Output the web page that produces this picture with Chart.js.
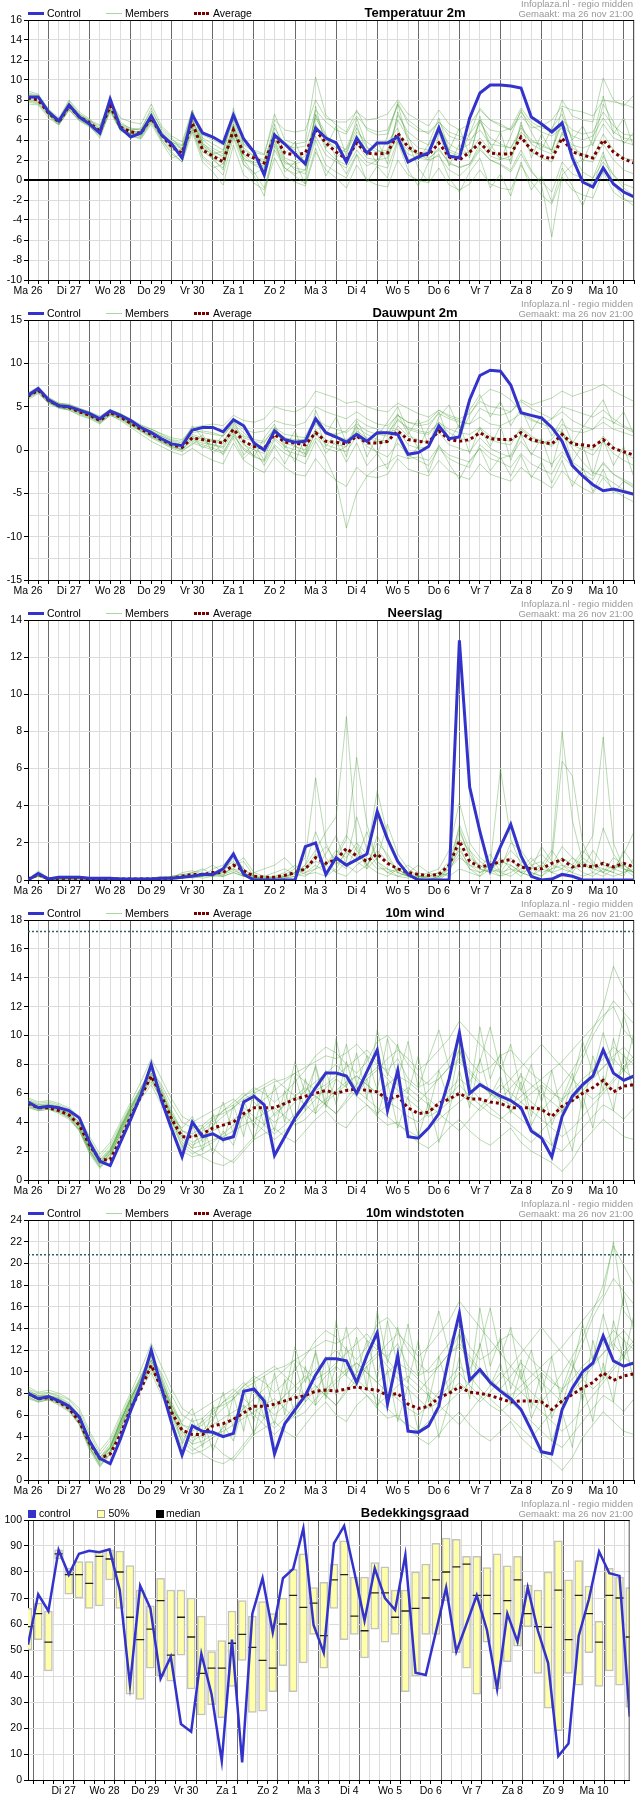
<!DOCTYPE html>
<html><head><meta charset="utf-8">
<script src="https://cdn.jsdelivr.net/npm/chart.js@4.4.1/dist/chart.umd.min.js"></script>
<style>
body{margin:0;background:#fff;}
#wrap{position:relative;width:635px;height:1800px;overflow:hidden;font-family:"Liberation Sans",Arial,sans-serif;}
.panel{position:absolute;left:0;width:635px;height:300px;}
.panel canvas{position:absolute;left:0;top:0;}
.t{position:absolute;white-space:nowrap;}
.leg{font-size:10.5px;line-height:14px;top:6px;color:#000;}
.title{font-size:13px;font-weight:bold;line-height:14px;top:6px;left:315px;width:200px;text-align:center;color:#000;}
.info{font-size:9.5px;line-height:10px;color:#999;right:2px;text-align:right;}
.sw{position:absolute;box-sizing:border-box;}
</style></head><body><div id="wrap"></div>
<script>
// ---------- labels ----------
const dayLabels = ['Ma 26','Di 27','Wo 28','Do 29','Vr 30','Za 1','Zo 2','Ma 3','Di 4','Wo 5','Do 6','Vr 7','Za 8','Zo 9','Ma 10'];
const cloudDayLabels = ['Di 27','Wo 28','Do 29','Vr 30','Za 1','Zo 2','Ma 3','Di 4','Wo 5','Do 6','Vr 7','Za 8','Zo 9','Ma 10'];
const titles = ['Temperatuur 2m','Dauwpunt 2m','Neerslag','10m wind','10m windstoten','Bedekkingsgraad'];
const legendLine = ['Control','Members','Average'];
const legendCloud = ['control','50%','median'];
const infoText = ['Infoplaza.nl - regio midden','Gemaakt: ma 26 nov 21:00'];

// ---------- temperature ----------
const tempControl = [8.3,8.3,6.8,5.9, 7.5,6.3,5.6,4.7, 8.1,5.2,4.3,4.7, 6.4,4.5,3.6,2.2, 6.5,4.7,4.3,3.7, 6.5,4.1,2.8,0.5, 4.5,3.6,2.6,1.6, 5.2,4.2,3.7,1.8, 4.2,2.7,3.7,3.7, 4.3,1.8,2.3,2.7, 5.2,2.4,2.2,6.2, 8.7,9.5,9.5,9.4, 9.2,6.3,5.6,4.8, 5.7,2.2,-0.2,-0.7, 1.2,-0.4,-1.2,-1.7];
const tempAverage = [8.2,8.0,6.7,5.8, 7.4,6.3,5.7,4.9, 7.4,5.3,4.8,4.7, 6.2,4.5,3.3,2.7, 5.7,3.0,2.4,1.8, 5.0,2.7,2.2,1.7, 4.4,2.7,2.5,2.7, 5.0,3.7,2.8,2.1, 3.7,2.7,2.6,2.7, 4.7,3.3,2.7,2.5, 3.7,2.3,2.0,2.8, 3.7,2.7,2.6,2.6, 4.3,3.0,2.4,2.1, 4.2,2.8,2.5,2.2, 4.0,2.8,2.1,1.7];
const tempMembers = [
 [8.6,8.4,7.0,6.0, 7.9,6.6,5.9,5.2, 8.3,5.8,5.1,5.0, 7.2,5.0,4.0,3.5, 6.8,4.0,3.2,2.6, 7.2,3.5,2.8,2.5, 6.6,4.0,3.6,3.8, 10.3,6.5,5.5,4.8, 7.0,5.0,4.5,4.6, 7.8,5.6,4.9,4.8, 5.8,4.4,4.0,4.6, 6.0,5.0,4.8,5.2, 7.2,5.8,5.2,5.0, 8.0,6.4,6.0,5.8, 10.2,8.0,7.4,8.5],
 [7.8,7.6,6.4,5.5, 7.0,5.9,5.3,4.4, 6.8,4.9,4.4,4.2, 5.8,4.0,2.6,1.8, 4.8,1.8,0.8,-0.5, 3.5,0.5,-0.3,-1.0, 2.2,0.3,-0.2,-0.6, 2.8,1.0,0.2,-0.8, 1.5,0.0,-0.5,-0.7, 2.0,0.5,0.0,-0.3, 1.2,-0.5,-1.0,-0.4, 1.0,-0.4,-0.8,-1.0, 1.5,-0.2,-1.5,-2.4, 0.3,-1.0,-1.5,-1.8, 0.8,-1.2,-2.0,-2.2],
 [8.4,8.2,6.9,5.9, 7.6,6.2,5.6,4.8, 8.2,5.2,4.4,4.8, 6.6,4.5,3.6,2.4, 6.4,4.5,4.0,3.5, 6.4,4.0,2.6,0.8, 4.6,3.8,3.0,1.8, 5.4,4.2,3.6,1.9, 4.5,2.8,3.6,3.8, 5.2,2.0,2.4,3.0, 5.5,2.8,2.4,4.6, 7.2,6.0,5.4,5.0, 6.8,5.5,4.8,4.4, 5.2,2.6,0.8,0.2, 1.8,0.5,-0.4,-0.8],
 [8.0,7.8,6.5,5.6, 7.2,6.2,5.7,5.0, 7.0,5.0,4.7,4.5, 6.0,4.6,3.8,3.2, 5.5,3.2,2.6,2.0, 4.8,2.2,1.5,1.0, 4.0,1.8,1.2,1.0, 6.5,4.0,3.2,2.8, 4.8,3.8,3.0,2.6, 6.5,4.8,4.0,3.5, 5.0,3.0,2.6,2.8, 4.2,3.0,2.2,2.0, 5.5,3.6,3.0,2.6, 4.6,3.5,3.2,3.6, 5.6,4.2,3.8,3.5],
 [8.3,8.1,6.6,5.7, 7.3,6.4,5.8,4.7, 7.6,5.4,5.0,4.6, 6.3,4.2,3.0,2.8, 5.9,3.2,2.0,1.2, 4.8,2.5,1.6,1.4, 4.5,2.0,1.0,0.6, 4.0,1.5,0.8,0.2, 2.5,1.4,2.0,2.8, 4.0,3.0,2.6,2.0, 2.4,1.0,0.4,1.4, 3.0,2.0,1.6,1.0, 3.0,1.0,-0.5,-5.7, 0.5,1.5,2.0,1.8, 3.6,2.0,1.0,0.6],
 [8.5,8.3,6.8,6.0, 7.5,6.5,5.9,5.4, 7.7,5.6,5.2,5.0, 6.5,4.8,3.6,3.1, 6.2,3.6,3.0,2.2, 5.6,3.0,2.4,2.0, 5.2,3.5,3.2,3.4, 7.0,5.8,5.0,4.6, 6.4,5.2,4.8,5.0, 7.5,6.0,5.2,4.6, 5.8,4.8,4.4,4.0, 5.0,3.6,3.4,3.2, 4.8,3.8,3.6,3.0, 6.0,5.0,4.6,4.8, 6.8,5.4,4.6,4.4],
 [7.6,7.5,6.2,5.5, 7.0,6.0,5.4,4.2, 7.0,5.0,4.6,4.4, 6.0,4.0,2.8,1.8, 5.2,2.4,1.5,0.5, 4.2,1.5,0.8,-0.8, 3.0,1.2,0.6,1.0, 4.4,2.5,1.8,1.2, 3.0,1.8,1.5,1.2, 4.0,2.6,2.2,2.0, 3.2,1.6,1.3,1.6, 3.2,2.0,1.5,0.8, 2.6,0.8,-0.2,-1.2, 1.8,0.6,0.2,-0.6, 2.4,0.5,-0.8,-1.6],
 [8.9,8.6,7.0,6.1, 7.7,6.6,6.0,5.5, 8.0,6.2,5.8,5.6, 7.6,5.4,4.4,3.8, 7.0,4.2,3.6,3.0, 6.2,3.6,3.0,2.6, 6.0,5.0,4.8,5.0, 8.0,6.2,5.8,5.8, 6.8,6.0,6.2,6.6, 8.0,6.6,6.0,5.4, 7.0,5.6,5.0,5.6, 7.0,6.0,5.6,5.0, 6.4,5.2,5.4,6.0, 7.4,7.0,6.8,6.4, 8.0,7.8,7.6,7.2],
 [8.1,7.9,6.7,5.8, 7.5,6.1,5.5,4.6, 7.3,5.1,4.6,4.3, 5.9,4.4,3.2,3.0, 5.4,2.8,2.2,1.6, 5.0,2.0,1.8,1.6, 3.6,1.6,1.6,2.0, 5.6,3.0,2.0,1.5, 3.6,2.2,2.0,2.2, 4.6,3.2,2.6,2.2, 3.0,1.8,1.2,1.6, 3.6,2.4,2.0,2.4, 4.4,2.8,2.2,1.8, 4.8,3.2,2.6,2.2, 4.6,3.0,2.2,2.0],
 [8.4,8.2,6.8,5.9, 7.4,6.3,5.6,4.9, 7.2,5.3,4.9,4.8, 6.4,4.8,3.8,3.4, 6.0,3.4,2.8,2.4, 5.4,2.6,2.0,1.8, 4.8,2.2,1.8,2.4, 6.2,4.4,3.6,3.0, 5.2,3.2,2.8,3.0, 6.0,4.2,3.2,3.0, 5.2,3.6,3.0,3.6, 5.8,4.2,3.6,3.2, 5.2,4.0,3.4,3.0, 5.6,4.4,4.0,4.4, 6.2,4.8,4.2,4.0],
 [8.7,8.5,7.1,6.2, 8.0,6.8,6.1,5.0, 7.9,5.6,5.0,5.2, 6.9,5.2,4.2,3.0, 7.0,3.6,2.2,1.0, 5.6,1.6,0.4,-1.6, 3.4,1.2,0.4,-0.4, 7.4,3.2,5.4,2.4, 6.2,3.4,1.6,4.4, 7.6,3.8,1.2,-0.2, 4.8,1.4,3.6,2.2, 6.4,3.0,4.8,1.6, 5.8,2.2,4.6,2.8, 7.2,3.8,1.8,4.2, 8.4,4.6,6.2,3.2],
 [7.9,7.7,6.5,5.6, 7.1,6.0,5.4,4.5, 7.1,5.0,4.4,4.1, 5.6,3.8,2.2,2.6, 5.0,2.2,1.2,1.6, 4.4,2.0,0.6,1.2, 4.0,0.8,1.8,-0.4, 3.2,0.4,2.2,0.6, 2.6,-0.2,1.4,0.2, 3.8,1.0,-0.6,1.8, 2.6,0.2,-1.2,0.8, 2.2,-0.8,0.6,-1.6, 1.8,-1.0,0.4,-2.2, 1.2,-0.6,-2.6,0.2, 2.8,-0.4,-1.8,-2.6],
 [8.2,8.1,6.6,5.9, 7.7,6.4,5.5,4.8, 7.8,5.5,4.6,4.9, 6.7,4.7,3.4,2.2, 6.0,3.8,2.6,2.9, 6.0,3.2,2.4,1.2, 5.6,2.6,3.8,1.4, 6.6,4.6,2.2,3.2, 5.6,2.4,4.0,1.6, 6.8,4.4,2.0,3.6, 6.2,3.0,5.2,2.4, 6.0,3.6,2.0,4.4, 7.0,4.8,3.0,5.2, 6.6,4.0,5.4,3.4, 7.6,5.8,3.6,4.8]
];

// ---------- dew point ----------
const dewControl = [6.3,7.1,5.8,5.1, 5.0,4.6,4.2,3.6, 4.5,4.0,3.4,2.6, 2.0,1.3,0.7,0.5, 2.3,2.6,2.6,2.1, 3.5,2.8,0.8,0.0, 2.2,1.2,0.9,1.0, 3.6,2.0,1.5,0.9, 1.8,1.0,2.0,2.0, 1.8,-0.5,-0.3,0.4, 2.8,1.3,1.5,5.8, 8.6,9.2,9.1,7.5, 4.3,4.0,3.7,2.6, 1.0,-1.8,-3.0,-4.0, -4.7,-4.5,-4.8,-5.1];
const dewAverage = [6.2,6.9,5.7,5.1, 4.9,4.4,4.0,3.4, 4.3,3.8,3.1,2.4, 1.8,1.2,0.6,0.3, 1.4,1.2,1.0,0.8, 2.4,1.0,0.4,0.2, 1.8,0.9,0.8,0.6, 2.0,1.0,0.9,0.7, 1.6,0.8,0.8,1.0, 2.2,1.2,1.0,0.9, 2.2,1.2,1.0,1.2, 2.0,1.3,1.2,1.2, 2.0,1.2,0.9,0.7, 1.8,0.7,0.6,0.4, 1.2,0.2,-0.2,-0.6];
const dewMembers = [
 [6.5,7.2,6.0,5.4, 5.2,4.8,4.4,3.8, 4.6,4.2,3.6,2.9, 2.4,1.8,1.2,1.0, 2.6,2.8,3.0,2.8, 4.0,3.4,3.2,3.6, 5.0,4.6,4.4,5.0, 6.8,6.4,6.0,5.4, 5.6,5.0,4.6,4.4, 5.4,4.8,4.2,3.8, 4.6,4.0,3.6,4.2, 5.6,5.0,4.8,4.4, 5.8,5.2,5.6,6.0, 6.8,6.2,6.6,7.0, 7.6,6.8,6.2,5.6],
 [6.0,6.6,5.4,4.8, 4.6,4.0,3.6,3.0, 4.0,3.4,2.6,1.8, 1.0,0.4,-0.2,-0.6, 0.2,-0.6,-1.2,-1.6, 0.8,-1.2,-2.0,-2.6, -0.8,-2.0,-2.8,-3.0, -1.0,-2.5,-3.5,-4.2, -2.0,-3.0,-3.2,-2.8, -1.0,-2.2,-2.6,-3.0, -1.2,-2.4,-3.0,-3.4, -1.6,-2.8,-3.2,-3.6, -2.0,-3.0,-3.6,-4.4, -2.4,-3.6,-4.4,-5.0, -3.2,-4.6,-5.4,-6.0],
 [6.3,7.0,5.8,5.1, 5.0,4.5,4.1,3.5, 4.4,3.9,3.2,2.5, 2.0,1.4,0.8,0.5, 2.0,2.2,2.0,1.6, 3.0,2.0,0.8,0.2, 2.2,1.4,1.0,1.2, 3.2,2.0,1.6,1.2, 2.0,1.2,1.8,2.0, 2.4,0.6,0.2,0.4, 2.4,1.4,1.6,4.0, 6.0,7.0,6.6,5.8, 4.4,3.6,3.0,2.6, 2.0,0.2,-1.4,-2.6, -3.0,-3.8,-4.6,-5.0],
 [6.1,6.8,5.6,5.0, 4.8,4.3,3.9,3.3, 4.2,3.7,3.0,2.3, 1.6,1.0,0.4,0.1, 1.0,0.6,0.2,-0.2, 1.6,0.2,-0.6,-1.4, 0.6,-0.4,-1.0,-1.6, 1.0,-1.0,-3.6,-9.0, -5.0,-3.0,-2.0,-1.6, -0.6,-1.0,-0.8,-1.2, 0.4,-0.6,-1.0,-1.4, 0.2,-1.0,-1.4,-2.0, -0.4,-1.6,-2.2,-2.8, -0.6,-2.0,-2.8,-3.4, -1.4,-2.8,-3.6,-4.2],
 [6.4,7.1,5.9,5.3, 5.1,4.6,4.2,3.6, 4.5,4.0,3.3,2.6, 2.2,1.6,1.0,0.6, 1.8,1.4,1.2,1.0, 2.6,1.4,1.0,0.8, 2.6,1.8,1.6,1.4, 3.0,2.0,1.8,2.2, 3.6,2.8,2.4,2.0, 3.4,2.6,2.2,2.0, 3.2,2.4,2.0,1.8, 2.6,1.6,1.2,1.0, 2.4,1.4,1.0,0.6, 2.0,1.0,0.4,0.0, 1.6,0.4,-0.4,-1.0],
 [5.8,6.5,5.4,4.9, 4.6,4.1,3.7,3.1, 4.0,3.5,2.8,2.1, 1.4,0.8,0.2,-0.2, 0.8,0.4,0.0,-0.4, 1.8,0.0,-0.8,-1.2, 1.2,0.0,-0.4,-0.8, 1.4,0.2,-0.2,0.4, 2.2,1.4,1.0,0.8, 2.8,1.6,1.2,0.8, 2.0,0.6,0.2,-0.2, 1.4,0.2,-0.4,-0.8, 1.0,-0.4,-1.0,-1.6, -0.2,-1.4,-2.2,-3.0, -1.6,-2.8,-3.4,-4.0],
 [6.6,7.3,6.1,5.4, 5.3,4.8,4.4,3.9, 4.7,4.2,3.5,2.8, 2.4,1.9,1.4,1.2, 2.4,2.0,1.8,1.6, 3.2,2.4,2.0,2.2, 3.4,3.0,2.8,3.2, 5.0,4.4,4.0,3.6, 4.4,3.6,3.0,2.8, 4.0,3.2,2.8,3.0, 4.2,3.6,3.2,3.0, 4.8,4.2,4.0,4.4, 5.6,4.8,4.2,3.6, 4.4,3.4,2.8,2.4, 3.2,2.4,2.0,1.6],
 [6.2,6.9,5.7,5.2, 4.9,4.4,4.0,3.4, 4.3,3.8,3.0,2.4, 1.7,1.1,0.5,0.2, 1.2,0.8,0.6,0.2, 2.0,0.6,0.0,-0.4, 1.4,0.4,0.0,-0.4, 2.0,0.6,0.2,-0.2, 1.6,0.4,-0.2,-0.8, 0.8,-0.6,-1.2,-1.8, 0.2,-1.0,-1.6,-2.0, 0.6,-0.4,-1.0,-0.6, 1.8,1.0,0.8,1.2, 3.0,2.2,2.0,2.4, 3.8,3.2,2.6,2.0],
 [6.0,6.7,5.5,4.9, 4.7,4.2,3.8,3.2, 4.1,3.6,2.9,2.2, 1.5,0.9,0.3,0.0, 1.4,1.0,0.6,0.4, 2.4,1.0,0.4,0.0, 2.0,0.8,0.4,0.0, 2.4,1.2,0.6,0.4, 2.6,1.8,1.2,1.0, 3.6,2.4,2.0,1.8, 3.2,2.0,1.4,1.0, 2.4,1.2,0.8,0.6, 2.6,1.6,1.0,0.4, 1.6,0.6,0.0,-0.6, 1.0,-0.4,-1.2,-1.8],
 [6.4,7.0,5.8,5.2, 5.0,4.5,4.0,3.5, 4.4,3.9,3.1,2.4, 1.9,1.3,0.7,0.4, 1.6,1.2,1.0,0.8, 2.8,1.6,1.2,1.0, 2.4,1.4,1.2,1.2, 3.6,2.8,2.4,2.0, 3.0,2.2,1.8,1.6, 4.0,3.2,3.0,3.4, 4.6,3.8,3.4,3.0, 3.8,3.0,2.8,3.4, 4.2,3.4,3.0,3.6, 5.0,4.6,4.2,3.8, 4.6,3.6,2.8,2.2],
 [6.4,7.1,5.9,5.3, 5.2,4.7,4.3,3.7, 4.6,4.1,3.4,2.7, 2.2,1.6,1.1,0.8, 2.8,1.4,0.2,1.8, 3.4,0.8,-0.8,1.4, 3.0,0.2,2.2,-0.6, 4.6,1.8,3.8,0.8, 2.8,-0.8,1.6,3.2, 5.0,2.2,0.2,2.6, 4.4,1.0,3.0,-0.4, 2.6,0.4,2.8,-1.2, 1.8,-0.6,1.4,-2.0, 2.4,-1.4,0.6,-2.8, 1.2,-1.8,0.4,-3.2],
 [6.1,6.8,5.6,4.9, 4.8,4.3,3.9,3.2, 4.2,3.7,2.9,2.2, 1.6,1.0,0.4,0.0, 0.6,1.8,-0.4,0.8, 2.2,-0.6,0.8,-1.2, 2.6,0.6,-1.4,1.6, 3.8,0.4,2.0,-0.8, 3.4,1.2,-0.4,2.4, 4.2,1.8,3.6,0.6, 3.8,5.2,2.4,4.6, 6.4,3.8,5.6,2.8, 4.8,2.2,4.0,1.6, 3.6,0.8,2.6,4.2, 5.8,3.0,4.4,1.8],
 [6.3,7.0,5.7,5.1, 4.9,4.4,4.0,3.4, 4.3,3.8,3.1,2.5, 1.9,1.3,0.7,0.3, 1.6,0.2,1.2,-0.6, 1.4,-1.0,0.2,-1.8, 0.4,-1.6,0.6,-0.8, 2.2,-0.4,1.0,-1.4, 0.8,-1.8,-0.4,-2.2, 1.6,-1.0,0.4,-2.6, 0.6,-1.6,-3.4,-1.2, 0.2,-2.4,-0.8,-3.0, -0.6,-3.2,-1.4,-3.8, -1.2,-4.2,-2.0,-4.8, -2.2,-5.0,-3.6,-4.4]
];

// ---------- precipitation ----------
const rainControl = [0,0.35,0.05,0.15, 0.15,0.15,0.1,0.1, 0.1,0.05,0.05,0.05, 0.05,0.1,0.1,0.15, 0.2,0.3,0.3,0.6, 1.4,0.3,0,0, 0,0,0,1.8, 2.0,0.3,1.2,0.8, 1.1,1.4,3.7,2.2, 1.0,0.3,0,0, 0,0,12.9,5.0, 2.6,0.5,1.8,3.0, 1.3,0.2,0,0.05, 0.3,0.2,0,0, 0,0,0,0];
const rainAverage = [0.05,0.3,0.05,0.1, 0.1,0.1,0.05,0.05, 0.05,0.05,0.05,0.05, 0.05,0.1,0.1,0.2, 0.3,0.3,0.4,0.4, 0.8,0.5,0.2,0.15, 0.15,0.25,0.4,0.6, 1.2,0.9,1.1,1.7, 1.3,1.0,1.4,0.9, 0.6,0.4,0.3,0.25, 0.3,0.8,2.1,1.0, 0.7,0.8,1.0,1.1, 0.7,0.6,0.6,0.9, 1.1,0.7,0.8,0.7, 0.9,0.7,0.9,0.7];
const rainMembers = [
 [0,0.3,0,0.1, 0.1,0.1,0,0, 0.1,0,0,0, 0,0.1,0.2,0.3, 0.4,0.6,0.3,0.2, 0.8,1.2,0.4,0.2, 0.1,0.3,0.6,1.2, 5.5,2.0,0.8,1.5, 1.0,0.6,2.4,1.2, 0.4,0.2,0.1,0, 0.2,0.8,1.6,0.8, 0.4,0.6,0.2,0.8, 0.4,0.2,0.6,1.4, 8.0,3.2,1.0,0.6, 0.4,1.2,0.8,0.4],
 [0,0.4,0.1,0.2, 0.2,0.1,0.1,0, 0,0.1,0.1,0, 0.1,0.2,0.1,0.2, 0.3,0.2,0.6,0.8, 1.4,0.6,0.2,0, 0,0.2,0.4,0.8, 1.6,2.6,3.4,8.8, 2.0,0.8,0.4,0.2, 0.6,0.2,0,0, 0,0.4,2.6,1.4, 0.6,0.4,1.2,0.6, 0.2,0.8,1.0,0.4, 0.2,0.6,1.4,2.4, 7.7,2.0,0.6,0.4],
 [0,0.2,0,0, 0.1,0.2,0.1,0.1, 0.1,0.1,0,0, 0,0,0.1,0.1, 0.2,0.1,0.2,0.4, 0.6,0.2,0.1,0.1, 0.2,0.4,0.8,0.4, 0.8,0.4,1.2,2.2, 6.6,3.0,1.0,0.4, 0.2,0.1,0.2,0.4, 0.6,1.6,4.2,2.0, 1.2,0.8,6.0,2.2, 0.8,0.4,0.2,0.6, 1.2,0.8,0.4,0.2, 0.6,0.4,1.6,0.8],
 [0,0.5,0.1,0.1, 0.1,0,0,0.1, 0,0,0.1,0.1, 0.1,0.1,0.2,0.2, 0.2,0.4,0.2,0.6, 1.0,0.4,0.1,0.1, 0.2,0.1,0.2,0.6, 1.4,0.8,1.6,1.2, 2.0,1.4,4.8,2.4, 1.0,0.4,0.2,0.1, 0.1,0.6,1.4,0.6, 0.2,1.0,0.8,1.6, 1.0,0.6,1.8,1.0, 6.4,5.6,2.0,0.8, 0.6,0.4,0.2,1.2],
 [0,0.2,0,0.1, 0,0.1,0,0, 0.1,0.1,0,0, 0,0.1,0.1,0.4, 0.5,0.3,0.3,0.3, 0.5,0.3,0.2,0.2, 0.4,0.6,0.3,0.2, 0.6,0.8,0.4,0.2, 0.8,1.2,0.6,0.6, 0.4,0.8,0.4,0.2, 0.4,1.0,2.8,1.2, 0.8,0.4,0.6,2.0, 1.6,0.8,0.4,0.6, 0.8,0.4,0.2,0.4, 1.0,0.6,1.4,2.6],
 [0,0.3,0,0, 0.1,0.1,0.1,0, 0,0,0,0.1, 0.1,0,0.1,0.2, 0.4,0.5,0.8,0.4, 0.6,0.4,0.2,0, 0,0.1,0.2,0.4, 0.6,1.4,2.4,0.8, 0.4,0.8,1.6,1.0, 0.6,0.2,0.1,0.2, 0.4,0.2,0.6,0.4, 0.2,0.6,0.4,0.2, 0.6,1.2,0.6,0.4, 1.2,0.8,1.6,1.0, 0.4,0.2,0.4,0.6],
 [0,0.4,0.1,0.1, 0.2,0.2,0.1,0.1, 0.1,0,0,0, 0,0.1,0.2,0.3, 0.2,0.2,0.4,0.2, 0.4,0.2,0.4,0.6, 0.8,1.2,0.6,0.3, 0.4,0.2,0.6,1.6, 1.2,2.6,1.0,0.6, 0.2,0.4,0.8,0.4, 0.2,0.4,1.8,0.6, 0.4,0.8,0.4,0.6, 0.4,0.2,0.8,1.6, 0.8,0.6,1.0,0.4, 0.2,0.6,0.8,0.4],
 [0,0.2,0.1,0, 0,0.1,0,0, 0,0.1,0,0, 0,0,0,0.1, 0.3,0.2,0.2,0.6, 0.8,1.0,0.2,0.1, 0.1,0.2,0.3,0.8, 2.6,1.2,0.4,1.0, 3.4,1.6,0.8,0.4, 0.6,0.2,0.1,0, 0.2,0.6,1.2,0.8, 0.6,0.4,0.2,0.4, 0.8,0.4,0.2,0.8, 0.6,0.4,1.2,0.8, 0.4,0.8,0.6,0.2],
 [0,0.3,0,0.1, 0.1,0,0.1,0, 0,0,0.1,0, 0,0.1,0.1,0.1, 0.2,0.4,0.2,0.2, 0.4,0.2,0.1,0.1, 0.1,0.2,0.4,0.6, 1.0,0.8,1.4,2.4, 1.6,0.8,2.0,1.4, 0.4,0.2,0.2,0.2, 0.2,0.8,2.2,1.6, 1.0,0.6,1.0,0.8, 0.4,1.0,1.4,0.8, 1.8,1.2,0.6,1.6, 0.8,0.6,0.4,0.8],
 [0,0.2,0,0, 0.1,0.1,0,0, 0.1,0,0,0.1, 0,0.1,0.1,0.2, 0.1,0.2,0.4,0.4, 1.2,0.6,0.1,0, 0,0.1,0.4,0.6, 1.2,1.8,1.0,0.6, 1.8,0.6,1.2,3.0, 1.4,0.6,0.2,0.1, 0.1,0.4,3.0,1.6, 0.6,1.4,0.4,1.2, 0.4,0.6,0.8,0.4, 0.6,1.2,0.8,0.6, 2.8,1.4,0.6,0.4]
];

// ---------- 10m wind ----------
const windLimit = 17.2;
const windControl = [5.4,5.0,5.1,5.0, 4.8,4.3,2.6,1.3, 1.0,2.6,4.2,5.9, 8.0,5.5,3.5,1.6, 4.0,3.0,3.2,2.8, 3.0,5.4,5.8,5.2, 1.7,3.0,4.3,5.3, 6.4,7.4,7.4,7.2, 6.0,7.5,9.0,4.8, 7.6,3.0,2.9,3.6, 4.6,7.0,10.2,6.0, 6.6,6.2,5.8,5.5, 5.0,3.4,2.9,1.6, 4.4,5.8,6.6,7.2, 9.0,7.4,6.9,7.2];
const windAverage = [5.3,5.0,5.0,4.8, 4.5,3.8,2.4,1.4, 1.4,2.8,4.4,5.8, 7.2,5.8,4.2,3.0, 3.0,3.2,3.6,3.8, 4.0,4.6,5.0,5.0, 5.0,5.3,5.6,5.8, 6.0,6.2,6.0,6.2, 6.3,6.2,6.1,5.6, 5.8,5.0,4.6,4.7, 5.3,5.6,6.0,5.6, 5.6,5.4,5.3,5.0, 5.0,5.0,4.9,4.4, 5.1,5.5,6.0,6.4, 6.9,6.1,6.5,6.6];
const windMembers = [
 [5.6,5.3,5.4,5.2, 4.9,4.2,2.8,1.6, 2.4,3.8,5.2,6.4, 7.6,6.6,5.2,4.0, 3.6,3.8,4.4,4.6, 5.0,5.6,6.0,6.4, 6.8,7.0,7.4,7.8, 8.2,8.6,8.4,8.8, 9.4,8.6,8.0,7.6, 8.4,7.0,6.4,6.8, 7.6,8.4,9.6,8.2, 7.4,7.8,8.6,9.0, 8.2,7.4,6.8,6.2, 5.4,6.8,8.4,10.0, 11.2,12.4,11.6,10.8],
 [5.0,4.8,4.9,4.6, 4.2,3.4,1.8,0.8, 1.6,3.2,4.6,5.8, 7.0,5.4,3.6,2.0, 1.6,1.8,2.2,1.6, 1.2,2.0,2.8,3.2, 3.6,3.0,2.6,3.4, 4.2,4.8,4.0,3.6, 4.6,5.2,4.4,3.8, 4.0,3.2,2.6,2.2, 2.8,3.6,4.2,3.4, 2.8,2.4,3.0,3.6, 2.6,2.0,1.6,1.2, 0.6,1.4,2.6,3.4, 4.2,3.6,3.0,2.8],
 [5.4,5.1,5.2,5.0, 4.6,3.8,2.2,1.2, 2.0,3.6,5.0,6.2, 7.4,6.2,4.6,3.2, 2.6,3.0,3.8,4.4, 5.0,5.8,6.4,6.0, 5.4,6.0,6.8,7.6, 8.6,9.2,8.8,8.0, 7.4,8.2,9.6,10.0, 9.2,8.0,7.2,6.6, 7.0,7.8,8.2,7.4, 6.6,6.0,5.6,5.2, 5.8,6.4,7.0,7.6, 8.2,9.0,9.8,10.6, 11.4,12.0,10.4,9.6],
 [5.2,4.9,5.0,4.8, 4.4,3.5,2.0,1.0, 1.8,3.4,4.8,6.0, 7.2,5.8,4.2,2.8, 2.2,2.4,2.8,3.0, 3.4,3.8,4.2,4.6, 5.0,4.4,3.8,4.2, 5.0,5.6,6.2,6.8, 7.2,6.6,6.0,5.4, 5.0,4.4,4.0,4.6, 5.4,6.2,7.0,6.4, 5.6,5.0,4.4,3.8, 3.2,2.6,3.4,4.2, 4.8,5.6,6.4,7.2, 7.8,8.6,9.2,8.4],
 [5.5,5.2,5.3,5.1, 4.7,4.0,2.4,1.4, 2.2,3.6,5.0,6.4, 7.8,6.4,4.8,3.4, 3.0,3.4,4.0,4.8, 5.4,6.0,5.4,4.6, 4.0,4.6,5.4,6.2, 6.8,7.4,8.0,7.2, 6.4,7.0,7.6,8.4, 9.0,8.4,7.6,8.2, 9.0,9.8,11.0,10.2, 9.4,8.6,7.8,7.0, 6.2,5.4,4.8,5.6, 6.6,7.6,8.8,10.4, 12.0,14.8,13.2,12.0],
 [5.3,5.0,5.1,4.9, 4.5,3.6,2.0,1.1, 1.8,3.2,4.6,5.8, 6.8,5.6,4.0,2.6, 2.0,1.6,1.2,1.0, 1.4,2.2,3.0,3.8, 4.6,5.2,5.8,6.4, 5.8,5.2,4.6,5.4, 6.2,5.6,5.0,4.4, 3.8,3.4,3.0,3.6, 4.2,4.8,5.4,6.0, 6.6,6.0,5.4,4.8, 4.2,3.6,3.0,2.4, 2.0,2.8,3.6,4.4, 5.2,4.8,4.2,5.0],
 [5.1,4.8,4.9,4.7, 4.3,3.4,1.9,0.9, 1.6,3.0,4.4,5.6, 6.6,5.2,3.8,2.4, 1.8,2.2,2.6,3.2, 3.8,4.4,5.0,5.6, 6.2,6.8,7.4,6.8, 6.2,6.6,7.2,7.8, 8.4,9.0,8.2,7.4, 6.6,6.0,5.4,6.2, 7.0,7.8,8.4,7.6, 6.8,6.2,5.6,6.4, 7.2,6.6,6.0,5.4, 4.8,5.4,6.2,7.0, 7.8,8.4,7.6,7.0],
 [5.7,5.4,5.5,5.3, 5.0,4.4,3.0,1.8, 2.6,4.0,5.4,6.8, 8.4,7.0,5.6,4.4, 4.0,4.4,4.8,5.2, 5.6,5.0,4.4,3.8, 3.2,3.8,4.6,5.2, 5.8,5.2,4.6,5.6, 6.6,7.2,7.8,7.0, 6.2,5.6,5.0,4.4, 4.8,5.4,6.0,5.4, 4.8,5.4,6.2,7.0, 7.8,8.6,9.4,8.6, 7.8,7.0,6.2,5.6, 6.2,7.0,7.8,8.6],
 [5.2,5.0,5.1,4.8, 4.4,3.7,2.2,1.3, 2.0,3.4,4.8,6.0, 7.0,5.8,4.4,3.0, 2.4,2.8,3.4,3.8, 4.2,4.6,4.0,3.4, 2.8,3.4,4.0,4.8, 5.6,6.4,7.0,6.4, 5.8,5.2,4.6,5.2, 5.8,6.4,5.8,5.2, 4.6,4.0,3.4,4.2, 5.0,5.8,6.6,6.0, 5.4,4.8,4.2,3.6, 3.0,3.6,4.4,5.2, 6.0,6.8,7.6,8.4],
 [5.4,5.1,5.2,5.0, 4.6,3.9,2.3,1.2, 2.0,3.6,5.0,6.2, 7.4,6.0,4.6,3.4, 3.2,3.6,4.2,4.8, 5.2,5.8,6.2,6.6, 7.0,6.4,5.8,5.2, 4.6,5.4,6.0,6.6, 7.2,6.6,6.0,6.6, 7.2,6.8,6.2,5.6, 5.0,5.8,6.6,5.8, 5.2,4.6,4.2,4.8, 5.4,6.0,6.6,6.0, 5.6,6.2,7.0,7.6, 8.4,9.2,8.6,8.0],
 [5.5,5.2,5.2,5.1, 4.7,4.0,2.5,1.4, 2.1,3.7,5.1,6.3, 7.6,6.2,4.4,2.2, 3.8,2.0,4.6,2.6, 5.2,3.0,6.2,3.8, 6.6,4.0,7.2,4.8, 8.0,5.2,9.8,6.4, 8.8,5.6,10.4,7.2, 9.4,6.0,8.6,4.8, 7.6,5.4,9.2,6.0, 10.6,7.0,8.8,5.6, 7.4,4.4,6.6,3.8, 5.6,7.4,4.8,8.6, 6.2,9.8,7.4,10.2],
 [5.1,4.9,5.0,4.7, 4.3,3.5,2.0,0.9, 1.7,3.3,4.7,5.9, 7.1,5.6,3.9,3.0, 2.2,3.8,1.8,3.4, 2.4,4.6,2.8,5.2, 3.4,6.2,4.0,7.0, 4.6,7.6,5.2,8.2, 5.8,7.0,4.4,6.8, 3.6,5.8,3.0,5.4, 2.6,4.8,7.6,5.0, 8.4,5.8,7.2,4.6, 6.8,3.8,5.2,2.4, 4.2,2.0,5.8,3.6, 7.2,4.8,8.8,6.0],
 [5.3,5.0,5.1,4.9, 4.5,3.7,2.1,1.1, 1.9,3.5,4.9,6.1, 7.3,6.0,4.3,3.6, 4.4,2.6,3.6,5.4, 3.2,5.6,3.6,6.4, 4.4,5.2,8.2,6.0, 7.8,5.0,7.0,9.4, 6.6,8.6,6.2,9.8, 7.0,9.6,6.4,8.4, 10.4,7.8,9.0,6.8, 8.2,10.6,7.6,9.4, 6.2,8.0,5.4,7.6, 4.6,6.8,9.6,7.4, 10.2,8.0,11.4,9.2]
];

// ---------- 10m gusts ----------
const gustLimit = 20.8;
const gustControl = [8.0,7.5,7.7,7.3, 6.8,5.8,3.6,2.0, 1.5,3.8,6.4,8.8, 12.0,8.5,5.2,2.3, 5.0,4.5,4.4,4.0, 4.3,8.2,8.4,7.3, 2.4,5.2,6.5,7.8, 9.7,11.2,11.2,11.0, 9.0,11.5,13.6,7.0, 11.5,4.5,4.4,5.0, 6.8,11.4,15.4,9.2, 10.2,9.0,8.2,7.5, 6.5,4.6,2.6,2.4, 6.5,8.5,10.0,10.8, 13.3,11.0,10.5,10.8];
const gustAverage = [8.0,7.5,7.6,7.2, 6.6,5.4,3.4,2.0, 2.4,4.2,6.6,8.4, 10.6,8.4,6.2,4.6, 4.2,4.2,5.0,5.2, 5.6,6.2,6.8,6.8, 7.0,7.3,7.6,7.8, 8.2,8.3,8.2,8.4, 8.6,8.4,8.3,7.8, 8.0,7.0,6.6,6.8, 7.6,8.0,8.6,8.1, 8.0,7.8,7.5,7.2, 7.3,7.3,7.2,6.5, 7.3,7.9,8.5,9.0, 9.9,9.2,9.6,9.8];
const gustMembers = [
 [8.4,8.0,8.1,7.8, 7.4,6.3,4.2,2.4, 3.6,5.7,7.8,9.6, 11.4,9.9,7.8,6.0, 5.4,5.7,6.6,6.9, 7.5,8.4,9.0,9.6, 10.2,10.5,11.1,11.7, 12.3,12.9,12.6,13.2, 14.1,12.9,12.0,11.4, 12.6,10.5,9.6,10.2, 11.4,12.6,14.4,12.3, 11.1,11.7,12.9,13.5, 12.3,11.1,10.2,9.3, 8.1,10.2,12.6,15.0, 16.8,18.6,17.4,16.2],
 [7.5,7.2,7.4,6.9, 6.3,5.1,2.7,1.2, 2.4,4.8,6.9,8.7, 10.5,8.1,5.4,3.0, 2.4,2.7,3.3,2.4, 1.8,3.0,4.2,4.8, 5.4,4.5,3.9,5.1, 6.3,7.2,6.0,5.4, 6.9,7.8,6.6,5.7, 6.0,4.8,3.9,3.3, 4.2,5.4,6.3,5.1, 4.2,3.6,4.5,5.4, 3.9,3.0,2.4,1.8, 0.9,2.1,3.9,5.1, 6.3,5.4,4.5,4.2],
 [8.1,7.7,7.8,7.5, 6.9,5.7,3.3,1.8, 3.0,5.4,7.5,9.3, 11.1,9.3,6.9,4.8, 3.9,4.5,5.7,6.6, 7.5,8.7,9.6,9.0, 8.1,9.0,10.2,11.4, 12.9,13.8,13.2,12.0, 11.1,12.3,14.4,15.0, 13.8,12.0,10.8,9.9, 10.5,11.7,12.3,11.1, 9.9,9.0,8.4,7.8, 8.7,9.6,10.5,11.4, 12.3,13.5,14.7,15.9, 17.1,22.0,15.6,14.4],
 [7.8,7.4,7.5,7.2, 6.6,5.3,3.0,1.5, 2.7,5.1,7.2,9.0, 10.8,8.7,6.3,4.2, 3.3,3.6,4.2,4.5, 5.1,5.7,6.3,6.9, 7.5,6.6,5.7,6.3, 7.5,8.4,9.3,10.2, 10.8,9.9,9.0,8.1, 7.5,6.6,6.0,6.9, 8.1,9.3,10.5,9.6, 8.4,7.5,6.6,5.7, 4.8,3.9,5.1,6.3, 7.2,8.4,9.6,10.8, 11.7,12.9,13.8,12.6],
 [8.3,7.8,8.0,7.7, 7.1,6.0,3.6,2.1, 3.3,5.4,7.5,9.6, 11.7,9.6,7.2,5.1, 4.5,5.1,6.0,7.2, 8.1,9.0,8.1,6.9, 6.0,6.9,8.1,9.3, 10.2,11.1,12.0,10.8, 9.6,10.5,11.4,12.6, 13.5,12.6,11.4,12.3, 13.5,14.7,16.5,15.3, 14.1,12.9,11.7,10.5, 9.3,8.1,7.2,8.4, 9.9,11.4,13.2,15.6, 18.0,21.6,19.8,18.0],
 [8.0,7.5,7.7,7.4, 6.8,5.4,3.0,1.7, 2.7,4.8,6.9,8.7, 10.2,8.4,6.0,3.9, 3.0,2.4,1.8,1.5, 2.1,3.3,4.5,5.7, 6.9,7.8,8.7,9.6, 8.7,7.8,6.9,8.1, 9.3,8.4,7.5,6.6, 5.7,5.1,4.5,5.4, 6.3,7.2,8.1,9.0, 9.9,9.0,8.1,7.2, 6.3,5.4,4.5,3.6, 3.0,4.2,5.4,6.6, 7.8,7.2,6.3,7.5],
 [7.7,7.2,7.4,7.1, 6.5,5.1,2.9,1.4, 2.4,4.5,6.6,8.4, 9.9,7.8,5.7,3.6, 2.7,3.3,3.9,4.8, 5.7,6.6,7.5,8.4, 9.3,10.2,11.1,10.2, 9.3,9.9,10.8,11.7, 12.6,13.5,12.3,11.1, 9.9,9.0,8.1,9.3, 10.5,11.7,12.6,11.4, 10.2,9.3,8.4,9.6, 10.8,9.9,9.0,8.1, 7.2,8.1,9.3,10.5, 11.7,12.6,11.4,10.5],
 [8.6,8.1,8.3,8.0, 7.5,6.6,4.5,2.7, 3.9,6.0,8.1,10.2, 12.6,10.5,8.4,6.6, 6.0,6.6,7.2,7.8, 8.4,7.5,6.6,5.7, 4.8,5.7,6.9,7.8, 8.7,7.8,6.9,8.4, 9.9,10.8,11.7,10.5, 9.3,8.4,7.5,6.6, 7.2,8.1,9.0,8.1, 7.2,8.1,9.3,10.5, 11.7,12.9,14.1,12.9, 11.7,10.5,9.3,8.4, 9.3,10.5,11.7,12.9],
 [7.8,7.5,7.7,7.2, 6.6,5.6,3.3,2.0, 3.0,5.1,7.2,9.0, 10.5,8.7,6.6,4.5, 3.6,4.2,5.1,5.7, 6.3,6.9,6.0,5.1, 4.2,5.1,6.0,7.2, 8.4,9.6,10.5,9.6, 8.7,7.8,6.9,7.8, 8.7,9.6,8.7,7.8, 6.9,6.0,5.1,6.3, 7.5,8.7,9.9,9.0, 8.1,7.2,6.3,5.4, 4.5,5.4,6.6,7.8, 9.0,10.2,11.4,12.6],
 [8.1,7.7,7.8,7.5, 6.9,5.9,3.5,1.8, 3.0,5.4,7.5,9.3, 11.1,9.0,6.9,5.1, 4.8,5.4,6.3,7.2, 7.8,8.7,9.3,9.9, 10.5,9.6,8.7,7.8, 6.9,8.1,9.0,9.9, 10.8,9.9,9.0,9.9, 10.8,10.2,9.3,8.4, 7.5,8.7,9.9,8.7, 7.8,6.9,6.3,7.2, 8.1,9.0,9.9,9.0, 8.4,9.3,10.5,11.4, 12.6,13.8,12.9,12.0],
 [8.2,7.8,7.8,7.6, 7.0,6.0,3.7,2.1, 3.1,5.5,7.6,9.4, 11.4,9.3,6.6,3.3, 5.7,3.0,6.9,3.9, 7.8,4.5,9.3,5.7, 9.9,6.0,10.8,7.2, 12.0,7.8,14.7,9.6, 13.2,8.4,15.6,10.8, 14.1,9.0,12.9,7.2, 11.4,8.1,13.8,9.0, 15.9,10.5,13.2,8.4, 11.1,6.6,9.9,5.7, 8.4,11.1,7.2,12.9, 9.3,14.7,11.1,15.3],
 [7.6,7.3,7.5,7.0, 6.4,5.2,3.0,1.3, 2.5,4.9,7.0,8.8, 10.6,8.4,5.8,4.5, 3.3,5.7,2.7,5.1, 3.6,6.9,4.2,7.8, 5.1,9.3,6.0,10.5, 6.9,11.4,7.8,12.3, 8.7,10.5,6.6,10.2, 5.4,8.7,4.5,8.1, 3.9,7.2,11.4,7.5, 12.6,8.7,10.8,6.9, 10.2,5.7,7.8,3.6, 6.3,3.0,8.7,5.4, 10.8,7.2,13.2,9.0],
 [8.0,7.5,7.7,7.4, 6.8,5.6,3.2,1.7, 2.9,5.3,7.4,9.2, 11.0,9.0,6.5,5.4, 6.6,3.9,5.4,8.1, 4.8,8.4,5.4,9.6, 6.6,7.8,12.3,9.0, 11.7,7.5,10.5,14.1, 9.9,12.9,9.3,14.7, 10.5,14.4,9.6,12.6, 15.6,11.7,13.5,10.2, 12.3,15.9,11.4,14.1, 9.3,12.0,8.1,11.4, 6.9,10.2,14.4,11.1, 15.3,12.0,17.1,13.8]
];

// ---------- cloud cover ----------
const cloudControl = [52,71.4,65,88.5,79,87,88.2,87.6,88.7,73,36.5,74.7,66,39,47.4,21.5,18.6,48.5,33,7.3,54,6.8,64,77.6,56.7,77.6,81.2,96.8,59.6,49,91,97.7,80,61.3,81.4,70,65.4,86.5,41.3,40.4,57,74,49.4,60,71,57.7,35,64,53.2,74,57.4,45,9.2,14,55.4,69.5,87.8,79.5,78.5,24.4];
const cloudLow = [50,54,42,85,71.5,70,66,67,77,66,33,31,43,40,38,48,35,25,29,24,36,46,26,26.5,34,44,34,45,56,43,66,54,56,47,58,53,56,34,40,56,56,69,49,43,33,53,35,45.5,51.5,59,41,27.6,19,41,36.5,49,36,42,36.5,28];
const cloudHigh = [66,68,65,88.5,81.5,84,84,88,88.5,88,82.5,73,67,77.6,73,73,70,63,49.4,53.6,65,69,63,68.6,64,70,81,87,74,76,83,92,78,78,83.6,82,73,73,80,83,91,93,92.6,86,86,81.7,87,82.4,86,75,73,80,92,77,84.4,74.6,61,81.4,78,74];
const cloudMedian = [59,64,53,87,79,79,75.6,86,85,80,62.6,54,58,69,48,62.6,55,41,43,43,52.6,56,51,46,43,60,71,66.4,68,55.5,77,79,63,57.4,72,72,62.6,65,66,70,77,80,82,83,71,71,64,69,77,64,59,58.7,73,54,71,64,53,71,70,55];

// ---------- styling / layout ----------
const FONT = '"Liberation Sans", Arial, sans-serif';
const tickFont = {family: FONT, size: 10.5};
const X_MAX = 59;
const C_CONTROL = '#3333cc', C_AVG = '#7a0000', C_MEMBER = 'rgba(60,155,40,0.36)';
const DAY_LINE = '#6a6a6a', GRID = '#dcdcdc';

function pts(arr){ return arr.map((v,i)=>({x:i, y:v})); }
function near(a,b){ return Math.abs(a-b) < 1e-6; }

const frame = {
  id:'frame',
  afterDraw(chart){
    const a = chart.chartArea, c = chart.ctx;
    c.save();
    c.strokeStyle = '#555'; c.lineWidth = 1;
    c.beginPath(); c.moveTo(a.right-0.5, a.top); c.lineTo(a.right-0.5, a.bottom); c.stroke();
    c.strokeStyle = '#000';
    c.beginPath(); c.moveTo(a.left, a.top+0.5); c.lineTo(a.right, a.top+0.5); c.stroke();
    c.restore();
  }
};

function xScaleMain(){
  return {
    type:'linear', min:0, max:X_MAX, offset:false,
    afterBuildTicks: s => { const t=[]; for(let i=0;i<=X_MAX;i++) t.push({value:i}); s.ticks=t; },
    afterFit: s => { s.height = 20; },
    ticks:{autoSkip:false, maxRotation:0, minRotation:0, padding:1, color:'#000', font:tickFont,
      callback: v => (v % 4 === 0 && dayLabels[v/4]) ? dayLabels[v/4] : ''},
    grid:{offset:false, color: c => (c.tick && c.tick.value % 4 === 2) ? DAY_LINE : GRID, tickLength:4, tickColor:'#000', lineWidth:1},
    border:{color:'#000', width:1}
  };
}
function xScaleCloud(){
  return {
    type:'linear', min:0, max:X_MAX, offset:false,
    afterBuildTicks: s => { const t=[]; for(let i=0;i<X_MAX;i++) t.push({value:i+0.5}); s.ticks=t; },
    afterFit: s => { s.height = 20; },
    ticks:{autoSkip:false, maxRotation:0, minRotation:0, padding:1, color:'#000', font:tickFont,
      callback: v => { const k=(v-3.5)/4; return (Number.isInteger(k) && k>=0 && k<cloudDayLabels.length) ? cloudDayLabels[k] : ''; }},
    grid:{offset:false, color: c => (c.tick && ((c.tick.value-0.5) % 4 === 0)) ? DAY_LINE : GRID, tickLength:4, tickColor:'#000', lineWidth:1},
    border:{color:'#000', width:1}
  };
}
function yScale(min, max, step, labelEvery, zeroBold){
  const isLab = v => near(v/labelEvery, Math.round(v/labelEvery));
  return {
    type:'linear', min, max,
    afterBuildTicks: s => { const t=[]; for(let v=min; v<=max+1e-9; v+=step) t.push({value:+v.toFixed(4)}); s.ticks=t; },
    afterFit: s => { s.width = 28; },
    ticks:{autoSkip:false, padding:2, color:'#000', font:tickFont, callback: v => isLab(v) ? String(v) : ''},
    grid:{
      color: c => (zeroBold && c.tick && c.tick.value === 0) ? '#000' : GRID,
      lineWidth: c => (zeroBold && c.tick && c.tick.value === 0) ? 2 : 1,
      tickLength:4,
      tickColor: c => (c.tick && isLab(c.tick.value)) ? '#000' : 'rgba(0,0,0,0)'
    },
    border:{color:'#000', width:1}
  };
}

const panels = [
  {title:titles[0], control:tempControl, avg:tempAverage, members:tempMembers, y:[-10,16,2,2], zero:true},
  {title:titles[1], control:dewControl, avg:dewAverage, members:dewMembers, y:[-15,15,2.5,5]},
  {title:titles[2], control:rainControl, avg:rainAverage, members:rainMembers, y:[0,14,2,2]},
  {title:titles[3], control:windControl, avg:windAverage, members:windMembers, y:[0,18,2,2], limit:windLimit},
  {title:titles[4], control:gustControl, avg:gustAverage, members:gustMembers, y:[0,24,2,2], limit:gustLimit},
  {title:titles[5], cloud:true, y:[0,100,10,10]}
];

const wrap = document.getElementById('wrap');
function addEl(parent, cls, text, style){
  const d = document.createElement('div');
  d.className = cls; if (text !== null) d.textContent = text;
  Object.assign(d.style, style||{});
  parent.appendChild(d); return d;
}

panels.forEach((p, idx) => {
  const panel = addEl(wrap, 'panel', null, {top:(idx*300)+'px'});
  const cv = document.createElement('canvas');
  cv.width = 635; cv.height = 300; cv.style.width='635px'; cv.style.height='300px';
  panel.appendChild(cv);

  if (!p.cloud){
    addEl(panel,'sw',null,{left:'28px',top:'12px',width:'16px',height:'3px',background:C_CONTROL});
    addEl(panel,'t leg',legendLine[0],{left:'47px'});
    addEl(panel,'sw',null,{left:'106px',top:'13px',width:'16px',height:'1px',background:'#a9d6a0'});
    addEl(panel,'t leg',legendLine[1],{left:'125px'});
    addEl(panel,'sw',null,{left:'194px',top:'12px',width:'15px',height:'3px',background:'repeating-linear-gradient(90deg,'+C_AVG+' 0 2.6px,transparent 2.6px 4px)'});
    addEl(panel,'t leg',legendLine[2],{left:'213px'});
  } else {
    addEl(panel,'sw',null,{left:'28px',top:'9.5px',width:'8px',height:'8px',background:C_CONTROL});
    addEl(panel,'t leg',legendCloud[0],{left:'39px'});
    addEl(panel,'sw',null,{left:'97px',top:'9.5px',width:'8px',height:'8px',background:'#ffffaa',border:'1px solid #999'});
    addEl(panel,'t leg',legendCloud[1],{left:'108.5px'});
    addEl(panel,'sw',null,{left:'156px',top:'9.5px',width:'8px',height:'8px',background:'#000'});
    addEl(panel,'t leg',legendCloud[2],{left:'166px'});
  }
  addEl(panel,'t title',p.title,{});
  addEl(panel,'t info',infoText[0],{top:'-1px'});
  addEl(panel,'t info',infoText[1],{top:'9px'});

  let datasets;
  if (!p.cloud){
    datasets = [
      {data:pts(p.control), borderColor:C_CONTROL, borderWidth:3, order:0},
      {data:pts(p.avg), borderColor:C_AVG, borderWidth:3, borderDash:[3,3], order:1}
    ];
    if (p.limit !== undefined){
      datasets.push({data:[{x:0,y:p.limit},{x:X_MAX,y:p.limit}], borderColor:'#2d6363', borderWidth:1.5, borderDash:[2,2], order:2});
    }
    p.members.forEach(m => datasets.push({data:pts(m), borderColor:C_MEMBER, borderWidth:1, order:3}));
  } else {
    datasets = [
      {data:pts(cloudControl), borderColor:C_CONTROL, borderWidth:2.5, order:0},
      {data:pts(cloudMedian), showLine:false, pointStyle:'line', pointRadius:4, pointBorderColor:'#222', pointBorderWidth:1.3, order:1},
      {type:'bar', data:cloudLow.map((v,i)=>({x:i, y:[v, cloudHigh[i]]})), backgroundColor:'#ffffaa', borderColor:'#c2c2c2', borderWidth:1.5, borderSkipped:false, barThickness:8, order:2}
    ];
  }
  datasets.forEach(d => { if (!d.type){ d.pointRadius = d.pointRadius || 0; d.tension = 0; d.fill = false; } });

  new Chart(cv, {
    type:'line',
    data:{datasets},
    options:{
      responsive:false, animation:false, events:[],
      layout:{padding:{top:20, right:1, left:0, bottom:0}},
      plugins:{legend:{display:false}, tooltip:{enabled:false}, title:{display:false}},
      scales:{
        x: p.cloud ? xScaleCloud() : xScaleMain(),
        y: yScale(p.y[0], p.y[1], p.y[2], p.y[3], !!p.zero)
      }
    },
    plugins:[frame]
  });
});
</script></body></html>
